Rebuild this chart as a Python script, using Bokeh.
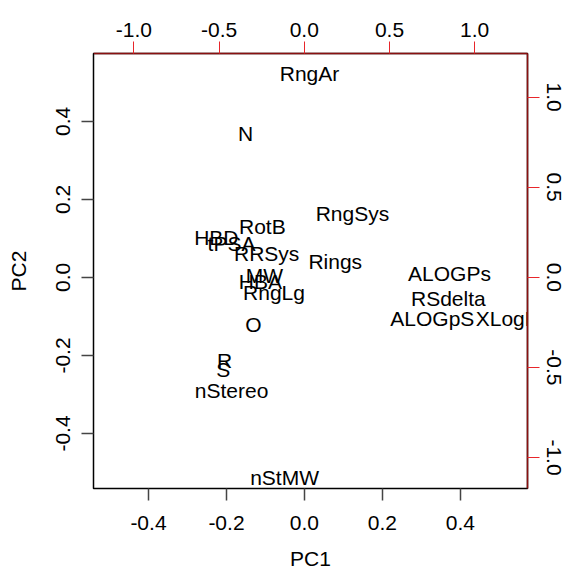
from bokeh.plotting import figure
from bokeh.models import Range1d, LinearAxis, FixedTicker, ColumnDataSource, PrintfTickFormatter
from bokeh.core.properties import value
from bokeh.embed import file_html
from bokeh.resources import INLINE

# Variable labels and their PC1 / PC2 positions
labels = ["RngAr", "N", "RotB", "RngSys", "HBD", "tPSA", "RRSys", "Rings",
          "MW", "HBA", "RngLg", "O", "ALOGPs", "RSdelta", "ALOGpS", "XLogP",
          "R", "S", "nStereo", "nStMW"]
pc1 = [0.013, -0.151, -0.108, 0.123, -0.226, -0.187, -0.097, 0.079,
       -0.103, -0.113, -0.078, -0.131, 0.372, 0.369, 0.328, 0.520,
       -0.205, -0.208, -0.187, -0.051]
pc2 = [0.523, 0.369, 0.131, 0.164, 0.103, 0.087, 0.062, 0.041,
       0.005, -0.010, -0.038, -0.121, 0.010, -0.054, -0.105, -0.105,
       -0.213, -0.236, -0.290, -0.513]

bottom_ticks = [-0.4, -0.2, 0.0, 0.2, 0.4]
left_ticks = [-0.4, -0.2, 0.0, 0.2, 0.4]
top_ticks = [-1.0, -0.5, 0.0, 0.5, 1.0]
right_ticks = [-1.0, -0.5, 0.0, 0.5, 1.0]

FONT = "Liberation Sans"
FS = "21px"

p = figure(x_range=Range1d(-0.541, 0.572), y_range=Range1d(-0.541, 0.574),
           frame_width=434, frame_height=435,
           min_border_left=93, min_border_right=42, min_border_top=53, min_border_bottom=80,
           output_backend="svg", toolbar_location=None,
           x_axis_label="PC1", y_axis_label="PC2")
p.extra_x_ranges = {"top": Range1d(-1.237, 1.310)}
p.extra_y_ranges = {"right": Range1d(-1.172, 1.242)}

p.grid.visible = False
p.outline_line_color = "black"
p.outline_line_width = 1.5
p.background_fill_color = "white"
p.border_fill_color = "white"

red = "#e8262b"
top_axis = LinearAxis(x_range_name="top", ticker=FixedTicker(ticks=top_ticks))
right_axis = LinearAxis(y_range_name="right", ticker=FixedTicker(ticks=right_ticks))
p.add_layout(top_axis, "above")
p.add_layout(right_axis, "right")

bottom_axis = p.below[0]
left_axis = p.left[0]
bottom_axis.ticker = FixedTicker(ticks=bottom_ticks)
left_axis.ticker = FixedTicker(ticks=left_ticks)

for ax in [bottom_axis, left_axis, top_axis, right_axis]:
    ax.formatter = PrintfTickFormatter(format="%.1f")
    ax.major_tick_out = 12
    ax.major_tick_in = 0
    ax.minor_tick_line_color = None
    ax.major_label_text_font = FONT
    ax.major_label_text_font_size = FS
    ax.major_label_text_color = "black"
    ax.axis_label_text_font = FONT
    ax.axis_label_text_font_size = FS
    ax.axis_label_text_font_style = "normal"
    ax.axis_label_text_color = "black"

for ax in [bottom_axis, left_axis]:
    ax.axis_line_color = "black"
    ax.major_tick_line_color = "#444444"
    ax.major_tick_line_width = 1.5

bottom_axis.major_label_standoff = 15
bottom_axis.axis_label_standoff = 14
left_axis.major_label_standoff = 11
left_axis.axis_label_standoff = 24

for ax in [top_axis, right_axis]:
    ax.axis_line_color = "#8a1010"
    ax.axis_line_width = 1.5
    ax.major_tick_line_color = red
    ax.major_tick_line_width = 1
top_axis.major_label_standoff = 5
right_axis.major_label_standoff = 7

left_axis.major_label_orientation = "vertical"
right_axis.major_label_orientation = "vertical"

src = ColumnDataSource(dict(x=pc1, y=pc2, t=labels))
p.text(x="x", y="y", text="t", source=src, text_align="center",
       text_baseline="middle", text_font=value(FONT), text_font_size=FS,
       text_color="black")

open("out.html", "w").write(file_html(p, INLINE))
